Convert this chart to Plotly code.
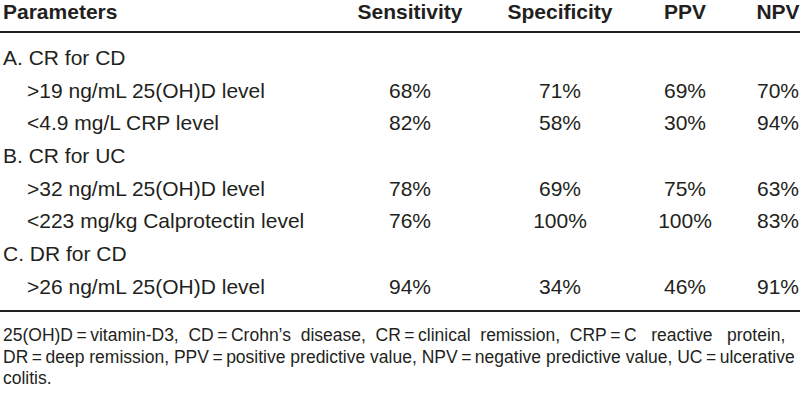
import plotly.graph_objects as go

# ---------------- data ----------------
header = ["Parameters", "Sensitivity", "Specificity", "PPV", "NPV"]
row_labels = [
    "A. CR for CD",
    ">19 ng/mL 25(OH)D level",
    "<4.9 mg/L CRP level",
    "B. CR for UC",
    ">32 ng/mL 25(OH)D level",
    "<223 mg/kg Calprotectin level",
    "C. DR for CD",
    ">26 ng/mL 25(OH)D level",
]
is_group = [True, False, False, True, False, False, True, False]
sensitivity = ["", "68%", "82%", "", "78%", "76%", "", "94%"]
specificity = ["", "71%", "58%", "", "69%", "100%", "", "34%"]
ppv = ["", "69%", "30%", "", "75%", "100%", "", "46%"]
npv = ["", "70%", "94%", "", "63%", "83%", "", "91%"]
footnote = [
    "25(OH)D\u2009=\u2009vitamin-D3,  CD\u2009=\u2009Crohn\u2019s  disease,  CR\u2009=\u2009clinical  remission,  CRP\u2009=\u2009C   reactive   protein,",
    "DR\u2009=\u2009deep remission, PPV\u2009=\u2009positive predictive value, NPV\u2009=\u2009negative predictive value, UC\u2009=\u2009ulcerative",
    "colitis.",
]

# ---------------- layout constants ----------------
W, H = 800, 403
FONT = "Liberation Sans, Arial, sans-serif"
INK = "#231f20"
header_y = 14
row_y = [60, 93, 125, 158, 191, 223, 256, 289]
col_x = [410, 560, 685, 778]
label_x_group, label_x_sub = 3, 27
rule_y = [32, 311]
foot_y = [337, 359, 380]

fig = go.Figure()

# header
fig.add_trace(go.Scatter(
    x=[label_x_group], y=[header_y], mode="text", text=["<b>%s</b>" % header[0]],
    textposition="middle right", textfont=dict(family=FONT, size=21, color=INK),
    hoverinfo="skip", showlegend=False, cliponaxis=False))
fig.add_trace(go.Scatter(
    x=col_x, y=[header_y] * 4, mode="text", text=["<b>%s</b>" % h for h in header[1:]],
    textposition="middle center", textfont=dict(family=FONT, size=21, color=INK),
    hoverinfo="skip", showlegend=False, cliponaxis=False))

# row labels
fig.add_trace(go.Scatter(
    x=[label_x_group if g else label_x_sub for g in is_group], y=row_y, mode="text",
    text=row_labels, textposition="middle right",
    textfont=dict(family=FONT, size=21, color=INK),
    hoverinfo="skip", showlegend=False, cliponaxis=False))

# values
for cx, col in zip(col_x, [sensitivity, specificity, ppv, npv]):
    fig.add_trace(go.Scatter(
        x=[cx] * len(col), y=row_y, mode="text", text=col,
        textposition="middle center", textfont=dict(family=FONT, size=21, color=INK),
        hoverinfo="skip", showlegend=False, cliponaxis=False))

# footnote
fig.add_trace(go.Scatter(
    x=[label_x_group] * len(footnote), y=foot_y, mode="text", text=footnote,
    textposition="middle right", textfont=dict(family=FONT, size=17.5, color=INK),
    hoverinfo="skip", showlegend=False, cliponaxis=False))

for ry in rule_y:
    fig.add_shape(type="line", xref="x", yref="y", x0=0, x1=W, y0=ry, y1=ry,
                  line=dict(color=INK, width=2))

fig.update_layout(
    width=W, height=H, margin=dict(l=0, r=0, t=0, b=0),
    paper_bgcolor="white", plot_bgcolor="white",
    xaxis=dict(range=[0, W], visible=False, fixedrange=True),
    yaxis=dict(range=[H, 0], visible=False, fixedrange=True),
)

fig.write_html("out.html", config={"displayModeBar": False},
               post_script="document.body.style.margin='0';document.body.style.overflow='hidden';")
